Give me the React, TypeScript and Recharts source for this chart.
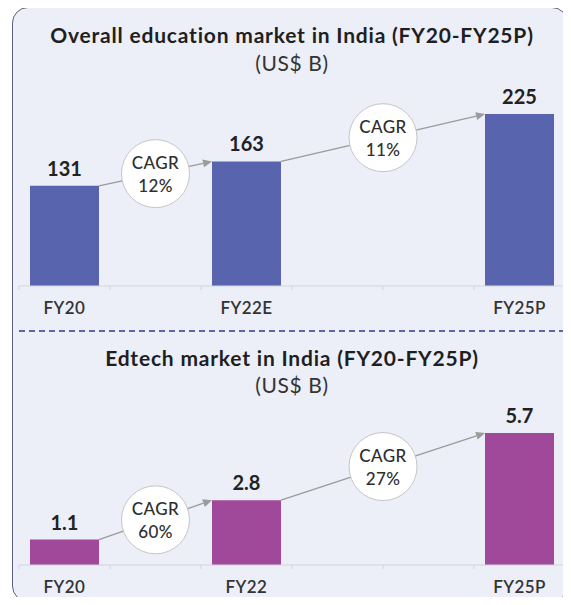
import { BarChart, Bar, XAxis, YAxis, LabelList, ReferenceLine } from 'recharts'

const educationCategories = ['FY20', 'FY21', 'FY22E', 'FY23', 'FY24', 'FY25P']
const educationValues = [131, null, 163, null, null, 225]
const educationCagr = [
  { from: 'FY20', to: 'FY22E', fromValue: 131, toValue: 163, rate: '12%' },
  { from: 'FY22E', to: 'FY25P', fromValue: 163, toValue: 225, rate: '11%' },
]

const edtechCategories = ['FY20', 'FY21', 'FY22', 'FY23', 'FY24', 'FY25P']
const edtechValues = [1.1, null, 2.8, null, null, 5.7]
const edtechCagr = [
  { from: 'FY20', to: 'FY22', fromValue: 1.1, toValue: 2.8, rate: '60%' },
  { from: 'FY22', to: 'FY25P', fromValue: 2.8, toValue: 5.7, rate: '27%' },
]

const FONT = 'Lato, "Noto Sans", sans-serif'
const BAR_W = 69
const AXIS_GREY = '#d3d4dc'

// arrow from top-right corner of one bar to top-left of the next, with the CAGR bubble on it
function cagrShape(rate: string) {
  return (p: any) => {
    const x1 = p.x1 + BAR_W / 2
    const y1 = p.y1
    const x2 = p.x2 - BAR_W / 2
    const y2 = p.y2
    const a = Math.atan2(y2 - y1, x2 - x1)
    const c = Math.cos(a)
    const s = Math.sin(a)
    const bx = x2 - 9 * c
    const by = y2 - 9 * s
    const pts = `${x2},${y2} ${bx - 4 * s},${by + 4 * c} ${bx + 4 * s},${by - 4 * c}`
    const cx = (x1 + x2) / 2
    const cy = (y1 + y2) / 2
    const txt = { textAnchor: 'middle', dominantBaseline: 'central', fontFamily: FONT, fontSize: 17, fontWeight: 500, fill: '#2e2e2e', letterSpacing: 0.4 } as any
    return (
      <g>
        <line x1={x1} y1={y1} x2={bx} y2={by} stroke="#9b9b9b" strokeWidth={1.3} />
        <polygon points={pts} fill="#9b9b9b" />
        <circle cx={cx} cy={cy} r={34} fill="#ffffff" stroke="#c6c6c6" strokeWidth={1} />
        <text x={cx} y={cy - 11} {...txt}>
          CAGR
        </text>
        <text x={cx} y={cy + 12} {...txt}>
          {rate}
        </text>
      </g>
    )
  }
}

function catTick(shown: (number | null)[]) {
  return (p: any) => {
    const i = p.index
    const n = shown.length
    const half = p.payload && p.payload.offset > 0 ? p.payload.offset : p.width / n / 2
    return (
      <g>
        <line x1={p.x - half} x2={p.x - half} y1={p.y} y2={p.y + 4} stroke={AXIS_GREY} />
        {i === n - 1 && <line x1={p.x + half} x2={p.x + half} y1={p.y} y2={p.y + 4} stroke={AXIS_GREY} />}
        {shown[i] != null && (
          <text x={p.x} y={p.y + 21} textAnchor="middle" dominantBaseline="central" fontFamily={FONT} fontSize={17} fontWeight={600} fill="#333" letterSpacing={0.4}>
            {p.payload.value}
          </text>
        )}
      </g>
    )
  }
}

function Panel({ categories, values, cagr, color, height, top, bottom, y }: any) {
  const data = categories.map((name: string, i: number) => ({ name, value: values[i] }))
  return (
    <BarChart
      width={571}
      height={height}
      data={data}
      margin={{ top, right: 6, left: 19, bottom }}
      style={{ position: 'absolute', left: 0, top: y }}
    >
      <XAxis
        dataKey="name"
        height={30}
        axisLine={{ stroke: AXIS_GREY }}
        tickLine={false}
        tickSize={0}
        tickMargin={0}
        interval={0}
        tick={catTick(values)}
      />
      <YAxis hide domain={[0, 'dataMax']} />
      <Bar dataKey="value" fill={color} barSize={BAR_W} isAnimationActive={false}>
        <LabelList
          dataKey="value"
          position="top"
          offset={10}
          formatter={(v: any) => (v == null ? '' : v)}
          style={{ fontFamily: FONT, fontSize: 20, fontWeight: 700, fill: '#222' }}
        />
      </Bar>
      {cagr.map((c: any) => (
        <ReferenceLine
          key={c.rate}
          segment={[
            { x: c.from, y: c.fromValue },
            { x: c.to, y: c.toValue },
          ]}
          ifOverflow="visible"
          shape={cagrShape(c.rate)}
        />
      ))}
    </BarChart>
  )
}

const titleStyle: any = {
  position: 'absolute',
  left: 0,
  width: 584,
  textAlign: 'center',
  fontFamily: FONT,
  fontSize: 21,
  fontWeight: 700,
  letterSpacing: 0.8,
  color: '#1f1f1f',
  lineHeight: '24px',
}
const subStyle: any = { ...titleStyle, fontWeight: 400, letterSpacing: 0.6, color: '#333' }

export default function App() {
  return (
    <div style={{ position: 'relative', width: 571, height: 605, margin: -8, overflow: 'hidden' }}>
      <div
        style={{
          position: 'absolute',
          left: 12,
          top: 7,
          width: 556,
          height: 595,
          boxSizing: 'border-box',
          border: '1.5px solid #5c6180',
          borderRadius: 16,
          background: '#eceef8',
        }}
      />
      <div style={{ ...titleStyle, top: 23 }}>Overall education market in India (FY20-FY25P)</div>
      <div style={{ ...subStyle, top: 51 }}>(US$ B)</div>
      <Panel categories={educationCategories} values={educationValues} cagr={educationCagr} color="#5865ae" height={320} top={114} bottom={4} y={0} />
      <svg width={571} height={10} style={{ position: 'absolute', left: 0, top: 326 }}>
        <line x1={19} y1={5} x2={566} y2={5} stroke="#5d66a8" strokeWidth={1.8} strokeDasharray="6 4" />
      </svg>
      <div style={{ ...titleStyle, top: 346 }}>Edtech market in India (FY20-FY25P)</div>
      <div style={{ ...subStyle, top: 373 }}>(US$ B)</div>
      <Panel categories={edtechCategories} values={edtechValues} cagr={edtechCagr} color="#a0489a" height={275} top={103} bottom={10} y={330} />
    </div>
  )
}
